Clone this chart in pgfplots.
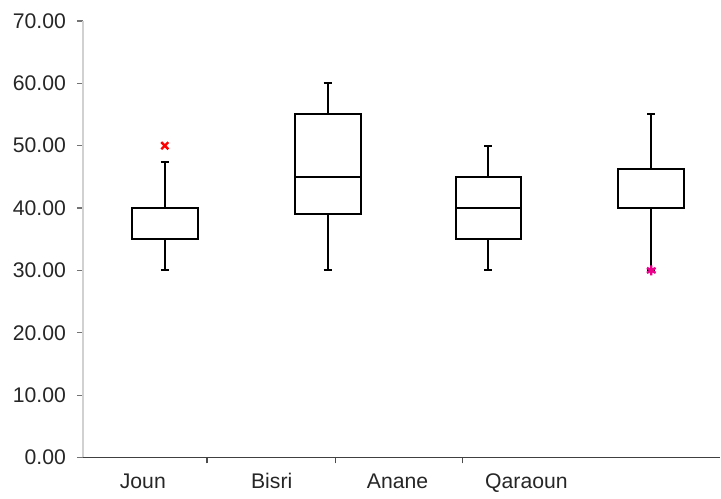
\documentclass[border=0pt]{standalone}
\usepackage{fontspec}
\setmainfont{Liberation Sans}
\usepackage{pgfplots}
\pgfplotsset{compat=1.18}
\usepgfplotslibrary{statistics}
\begin{document}
\begin{tikzpicture}
\begin{axis}[
  scale only axis,
  width=319pt, height=218.5pt,
  xmin=83, xmax=721, ymin=0, ymax=70,
  axis x line=bottom, axis y line=left,
  axis line style={-},
  x axis line style={draw=black!75, line width=0.8pt},
  y axis line style={draw=black!18, line width=0.8pt},
  ytick={0,10,...,70},
  xtick={207,336,463},
  xticklabels={},
  tick align=outside,
  major tick length=3pt,
  tick style={black!55, line width=0.6pt},
  x tick style={black!70, line width=0.8pt},
  extra x ticks={143,272,398,527},
  extra x tick labels={Joun,Bisri,Anane,Qaraoun},
  extra x tick style={major tick length=0pt, tick label style={yshift=-4.5pt}},
  yticklabel style={xshift=-2pt, /pgf/number format/.cd, fixed, fixed zerofill, precision=2, assume math mode=true},
  ticklabel style={font=\fontsize{10.6}{12}\selectfont, text=black!85},
  clip=false,
  boxplot/draw direction=y,
]
\path (axis cs:0,73.36) rectangle (axis cs:721,-6.25);
\addplot[black, line width=1pt, mark=none, boxplot prepared={draw position=165, box extend=66, whisker extend=8,
  lower whisker=30, lower quartile=35, median=35, upper quartile=40, upper whisker=47.4}]
  coordinates {};
\addplot[black, line width=1pt, mark=none, boxplot prepared={draw position=328, box extend=66, whisker extend=8,
  lower whisker=30, lower quartile=39, median=45, upper quartile=55, upper whisker=60}]
  coordinates {};
\addplot[black, line width=1pt, mark=none, boxplot prepared={draw position=489, box extend=66, whisker extend=8,
  lower whisker=30, lower quartile=35, median=40, upper quartile=45, upper whisker=50}]
  coordinates {};
\addplot[black, line width=1pt, mark=none, boxplot prepared={draw position=652, box extend=66, whisker extend=8,
  lower whisker=30, lower quartile=40, median=40, upper quartile=46.2, upper whisker=55}]
  coordinates {};
\addplot[only marks, mark=x, mark size=2.5pt, red, line width=1.2pt] coordinates {(165,50)};
\addplot[only marks, mark=asterisk, mark size=2.5pt, magenta, line width=1.2pt] coordinates {(652,30)};
\end{axis}
\end{tikzpicture}
\end{document}
